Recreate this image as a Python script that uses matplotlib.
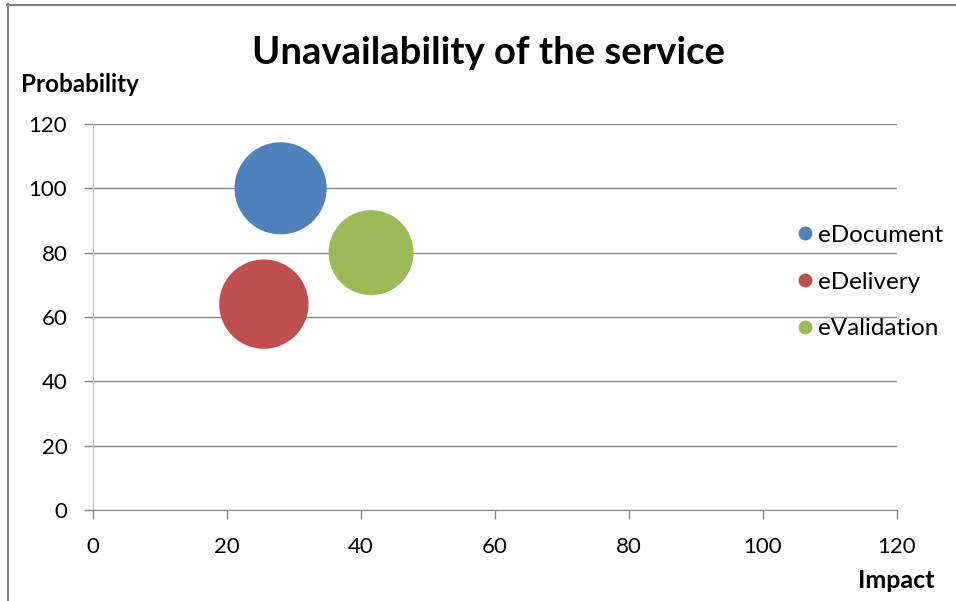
import matplotlib
matplotlib.use("Agg")
import matplotlib.pyplot as plt
from matplotlib.lines import Line2D

# bubble data: impact (x), probability (y), relative bubble size
services = ["eDocument", "eDelivery", "eValidation"]
impact = [28, 25.5, 41.5]
probability = [100, 64, 80]
bubble_size = [100, 94, 85]
colors = ["#4F81BD", "#C0504D", "#9BBB59"]

x_ticks = [0, 20, 40, 60, 80, 100, 120]
y_ticks = [0, 20, 40, 60, 80, 100, 120]

plt.rcParams["font.family"] = ["Lato", "DejaVu Sans"]

W, H = 956, 601
fig = plt.figure(figsize=(W / 100, H / 100), dpi=100)
ax = fig.add_axes([93 / W, 91 / H, 804 / W, 386 / H])

# bubble area proportional to size value
scale = 44.0
ax.scatter(impact, probability, s=[b * scale for b in bubble_size],
           c=colors, edgecolors="none", zorder=3, clip_on=False)

ax.set_xlim(0, 120)
ax.set_ylim(0, 120)
ax.set_xticks(x_ticks)
ax.set_yticks(y_ticks)
ax.tick_params(axis="both", labelsize=16, colors="#868686", labelcolor="#000000",
               length=6.5, width=1)
ax.tick_params(axis="y", pad=12)
ax.tick_params(axis="x", pad=13)

ax.grid(axis="y", color="#868686", linewidth=1)
ax.set_axisbelow(True)
for side in ("top", "right"):
    ax.spines[side].set_visible(False)
ax.spines["left"].set_color("#BFBFBF")
ax.spines["bottom"].set_color("#868686")

fig.text(488 / W, 1 - 64 / H, "Unavailability of the service",
         ha="center", va="baseline", fontsize=27.5, fontweight="bold")
fig.text(21 / W, 1 - 92 / H, "Probability", ha="left", va="baseline",
         fontsize=17.5, fontweight="bold")
fig.text(935 / W, 1 - 588 / H, "Impact", ha="right", va="baseline",
         fontsize=18, fontweight="bold")

handles = [Line2D([], [], marker="o", linestyle="none", markersize=10,
                  markerfacecolor=c, markeredgecolor="none") for c in colors]
fig.legend(handles, services, loc="center left",
           bbox_to_anchor=(795 / W, 1 - 282 / H), frameon=False,
           fontsize=17.5, handlelength=0.8, handletextpad=0.14,
           borderpad=0, borderaxespad=0, labelspacing=1.05)

# chart frame edges
fig.add_artist(Line2D([8 / W, 8 / W], [0, 1 - 4 / H], color="#7F7F7F",
                      linewidth=1.5))
fig.add_artist(Line2D([7 / W, 1], [1 - 5 / H, 1 - 5 / H], color="#7F7F7F",
                      linewidth=1.5))

fig.savefig("out.png", dpi=100)
